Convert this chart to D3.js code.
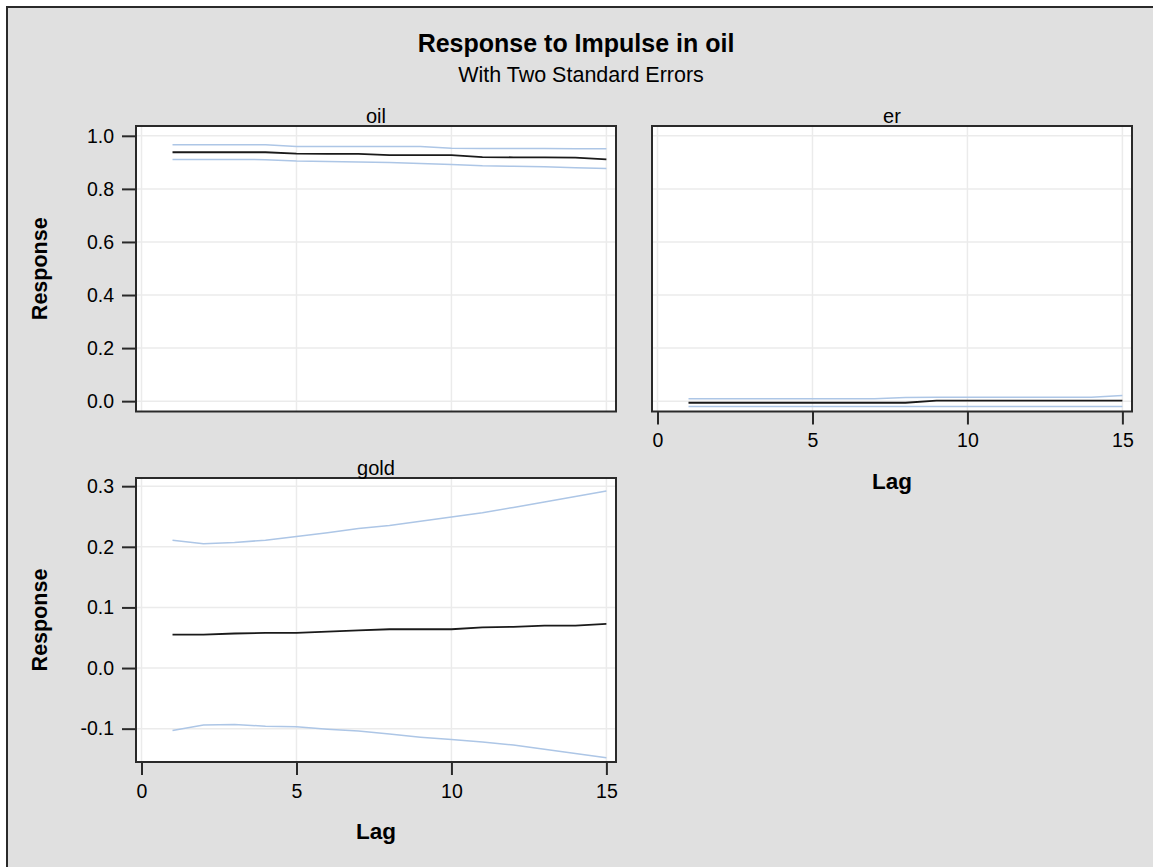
<!DOCTYPE html>
<html>
<head>
<meta charset="utf-8">
<script src="https://cdn.jsdelivr.net/npm/d3@7"></script>
<style>
  body { margin: 0; background: #ffffff; }
  svg text { font-family: "Liberation Sans", Arial, sans-serif; fill: #000; }
</style>
</head>
<body>
<svg id="chart" width="1153" height="867"></svg>
<script>
// ---------------- data ----------------
const lags = [1, 2, 3, 4, 5, 6, 7, 8, 9, 10, 11, 12, 13, 14, 15];

const oilEst   = [0.938, 0.938, 0.938, 0.938, 0.933, 0.932, 0.932, 0.927, 0.927, 0.927, 0.920, 0.919, 0.919, 0.918, 0.911];
const oilUpper = [0.966, 0.966, 0.966, 0.966, 0.960, 0.960, 0.960, 0.960, 0.960, 0.953, 0.952, 0.952, 0.952, 0.951, 0.951];
const oilLower = [0.911, 0.911, 0.911, 0.910, 0.905, 0.903, 0.901, 0.899, 0.896, 0.892, 0.887, 0.885, 0.883, 0.880, 0.877];

const erEst   = [-0.006, -0.006, -0.006, -0.006, -0.006, -0.006, -0.006, -0.006, 0.002, 0.002, 0.002, 0.002, 0.002, 0.002, 0.002];
const erUpper = [0.009, 0.009, 0.009, 0.009, 0.009, 0.009, 0.009, 0.014, 0.015, 0.015, 0.015, 0.015, 0.015, 0.015, 0.021];
const erLower = [-0.020, -0.020, -0.020, -0.020, -0.020, -0.020, -0.020, -0.020, -0.020, -0.020, -0.020, -0.020, -0.020, -0.020, -0.020];

const goldEst   = [0.055, 0.055, 0.057, 0.058, 0.058, 0.060, 0.062, 0.064, 0.064, 0.064, 0.067, 0.068, 0.070, 0.070, 0.073];
const goldUpper = [0.211, 0.205, 0.207, 0.211, 0.217, 0.223, 0.230, 0.235, 0.242, 0.249, 0.256, 0.265, 0.274, 0.283, 0.292];
const goldLower = [-0.103, -0.094, -0.093, -0.096, -0.097, -0.101, -0.104, -0.109, -0.114, -0.118, -0.122, -0.127, -0.134, -0.141, -0.148];

const xTicks       = [0, 5, 10, 15];
const yTicksTop    = [0.0, 0.2, 0.4, 0.6, 0.8, 1.0];
const yTicksBottom = [-0.1, 0.0, 0.1, 0.2, 0.3];

const titleText    = "Response to Impulse in oil";
const subtitleText = "With Two Standard Errors";
const xLabel = "Lag";
const yLabel = "Response";

// ---------------- layout ----------------
const xDomain = [-0.178, 15.31];
const panels = [
  { name: "oil",  est: oilEst,  up: oilUpper,  lo: oilLower,  x0: 136, x1: 616,  y0: 126, y1: 411.5,
    yDomain: [-0.039, 1.037], yTicks: yTicksTop, showY: true, showX: false },
  { name: "er",   est: erEst,   up: erUpper,   lo: erLower,   x0: 652, x1: 1132, y0: 126, y1: 411.5,
    yDomain: [-0.039, 1.037], yTicks: yTicksTop, showY: false, showX: true },
  { name: "gold", est: goldEst, up: goldUpper, lo: goldLower, x0: 136, x1: 616,  y0: 478, y1: 762,
    yDomain: [-0.155, 0.3135], yTicks: yTicksBottom, showY: true, showX: true }
];

const svg = d3.select("#chart");

// outer background with border
svg.append("rect")
  .attr("x", 7).attr("y", 7)
  .attr("width", 1160).attr("height", 880)
  .attr("fill", "#e0e0e0")
  .attr("stroke", "#2a2a2a").attr("stroke-width", 2);

// titles
svg.append("text").attr("x", 576).attr("y", 52)
  .attr("text-anchor", "middle").style("font-size", "25px").style("font-weight", "bold")
  .text(titleText);
svg.append("text").attr("x", 581).attr("y", 81.5)
  .attr("text-anchor", "middle").style("font-size", "21.5px")
  .text(subtitleText);

const fmt = d => d.toFixed(1);
const gridColor = "#ebebeb";
const bandColor = "#adc6e6";

panels.forEach((p, i) => {
  const x = d3.scaleLinear().domain(xDomain).range([p.x0, p.x1]);
  const y = d3.scaleLinear().domain(p.yDomain).range([p.y1, p.y0]);
  const g = svg.append("g");

  // wall
  g.append("rect").attr("x", p.x0).attr("y", p.y0)
    .attr("width", p.x1 - p.x0).attr("height", p.y1 - p.y0)
    .attr("fill", "#ffffff");

  // grid
  g.selectAll(".gx").data(xTicks).enter().append("line")
    .attr("x1", d => x(d)).attr("x2", d => x(d))
    .attr("y1", p.y0).attr("y2", p.y1)
    .attr("stroke", gridColor).attr("stroke-width", 1.5);
  g.selectAll(".gy").data(p.yTicks).enter().append("line")
    .attr("x1", p.x0).attr("x2", p.x1)
    .attr("y1", d => y(d)).attr("y2", d => y(d))
    .attr("stroke", gridColor).attr("stroke-width", 1.5);

  // series
  const line = d3.line().x((d, j) => x(lags[j])).y(d => y(d));
  g.append("path").datum(p.up).attr("d", line)
    .attr("fill", "none").attr("stroke", bandColor).attr("stroke-width", 1.5);
  g.append("path").datum(p.lo).attr("d", line)
    .attr("fill", "none").attr("stroke", bandColor).attr("stroke-width", 1.5);
  g.append("path").datum(p.est).attr("d", line)
    .attr("fill", "none").attr("stroke", "#1a1a1a").attr("stroke-width", 1.8);

  // frame
  g.append("rect").attr("x", p.x0).attr("y", p.y0)
    .attr("width", p.x1 - p.x0).attr("height", p.y1 - p.y0)
    .attr("fill", "none").attr("stroke", "#2a2a2a").attr("stroke-width", 2);

  // header
  g.append("text").attr("x", (p.x0 + p.x1) / 2).attr("y", p.y0 - 3.5)
    .attr("text-anchor", "middle").style("font-size", "20px")
    .text(p.name);

  if (p.showY) {
    const ay = g.append("g").attr("transform", `translate(${p.x0},0)`)
      .call(d3.axisLeft(y).tickValues(p.yTicks).tickFormat(fmt).tickSize(14).tickPadding(8));
    ay.select(".domain").remove();
    ay.selectAll(".tick line").attr("stroke", "#2a2a2a").attr("stroke-width", 2);
    ay.selectAll(".tick text").style("font-size", "19.5px").attr("fill", "#000")
      .style("font-family", "'Liberation Sans', Arial, sans-serif");
    g.append("text")
      .attr("transform", `translate(47,${(p.y0 + p.y1) / 2}) rotate(-90)`)
      .attr("text-anchor", "middle").style("font-size", "21.5px").style("font-weight", "bold")
      .text(yLabel);
  }
  if (p.showX) {
    const ax = g.append("g").attr("transform", `translate(0,${p.y1})`)
      .call(d3.axisBottom(x).tickValues(xTicks).tickFormat(d => d).tickSize(13).tickPadding(9));
    ax.select(".domain").remove();
    ax.selectAll(".tick line").attr("stroke", "#2a2a2a").attr("stroke-width", 2);
    ax.selectAll(".tick text").style("font-size", "19.5px").attr("fill", "#000")
      .style("font-family", "'Liberation Sans', Arial, sans-serif");
    g.append("text").attr("x", (p.x0 + p.x1) / 2).attr("y", p.y1 + 77)
      .attr("text-anchor", "middle").style("font-size", "22.5px").style("font-weight", "bold")
      .text(xLabel);
  }
});
</script>
</body>
</html>
